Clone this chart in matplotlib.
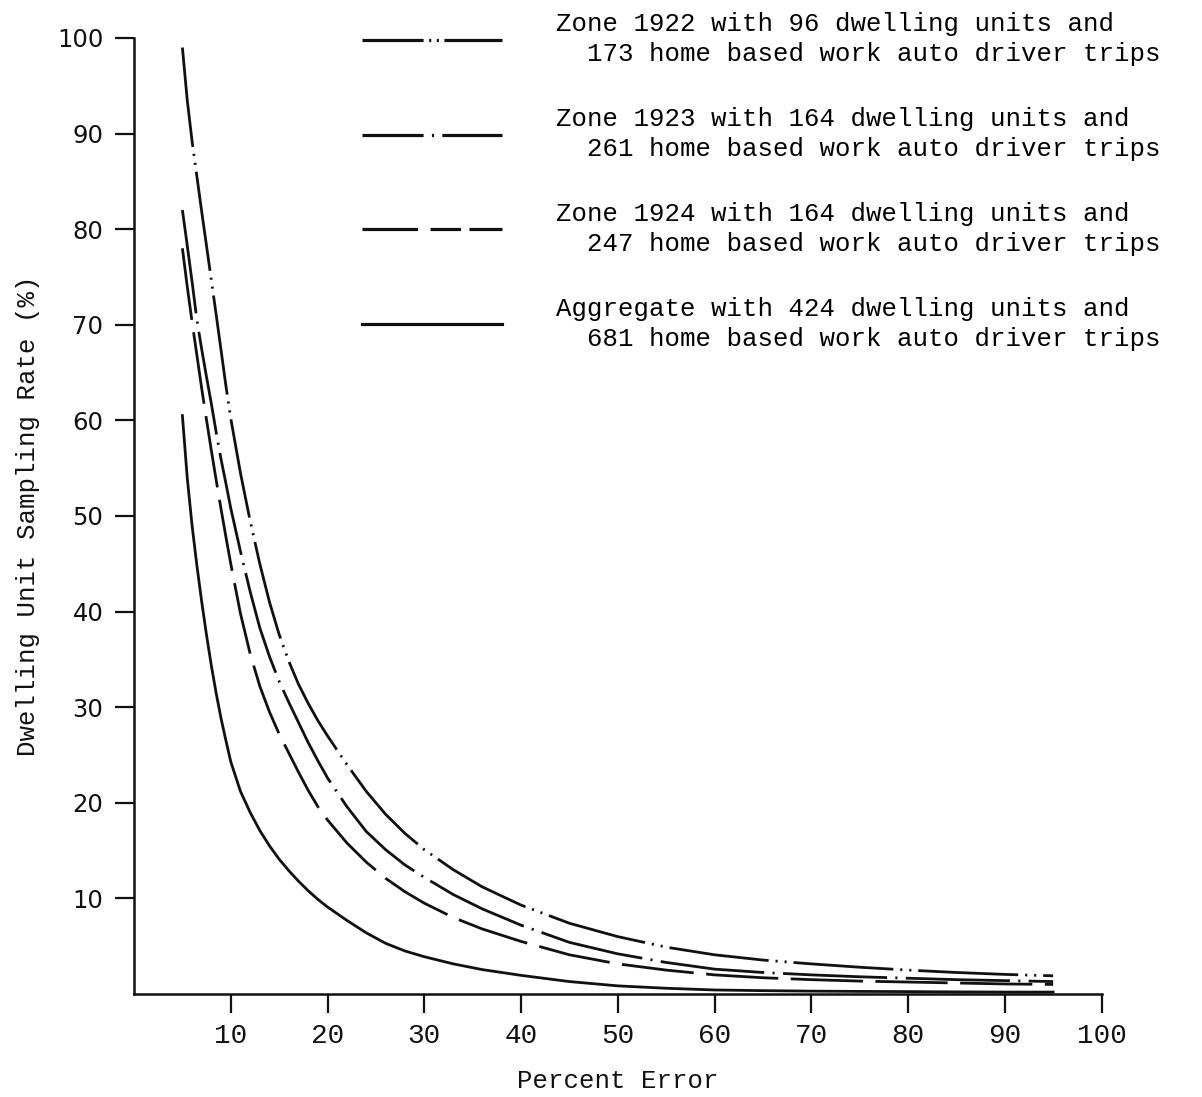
import matplotlib
matplotlib.use("Agg")
import matplotlib.pyplot as plt
from matplotlib.lines import Line2D

plt.rcParams['lines.scale_dashes'] = False

# percent error (x) and dwelling unit sampling rate (%)
pct_error = [5, 5.5, 6, 6.5, 7, 7.5, 8, 8.5, 9, 9.5, 10, 11, 12, 13, 14, 15, 16, 17, 18, 19,
             20, 22, 24, 26, 28, 30, 33, 36, 40, 45, 50, 55, 60, 65, 70, 75, 80, 85, 90, 95]
zone_1922 = [99, 93.5, 89.2, 85.5, 81.8, 78.2, 74.6, 71, 67.3, 63.6, 60.2, 54.5, 49.5, 45.0, 41.0,
             37.6, 34.8, 32.4, 30.4, 28.6, 27.0, 24.0, 21.2, 18.8, 16.8, 15.1, 13.0, 11.2, 9.3,
             7.4, 6.0, 4.9, 4.1, 3.55, 3.15, 2.8, 2.5, 2.25, 2.05, 1.9]
zone_1923 = [82, 78.3, 74.5, 70.5, 67.4, 64.5, 61.7, 58.7, 55.9, 53.4, 50.8, 46.3, 42.1, 38.3, 35.3,
             32.7, 30.5, 28.4, 26.3, 24.4, 22.6, 19.6, 17.0, 15.1, 13.5, 12.2, 10.4, 8.9, 7.2,
             5.4, 4.2, 3.3, 2.6, 2.25, 2.0, 1.8, 1.65, 1.5, 1.4, 1.3]
zone_1924 = [78, 74, 70.3, 66.8, 63.3, 60, 56.8, 53.7, 50.7, 47.8, 45, 39.8, 35.6, 32.2, 29.5,
             27.2, 25.2, 23.2, 21.3, 19.6, 18.2, 15.8, 13.8, 12.1, 10.7, 9.5, 8.0, 6.8, 5.5,
             4.1, 3.15, 2.5, 2.0, 1.7, 1.5, 1.35, 1.25, 1.15, 1.05, 1.0]
aggregate = [60.5, 54, 49, 44.8, 41, 37.5, 34.3, 31.4, 28.8, 26.5, 24.3, 21.2, 19.0, 17.1, 15.5,
             14.1, 12.9, 11.8, 10.8, 9.9, 9.1, 7.7, 6.4, 5.3, 4.5, 3.9, 3.15, 2.55, 1.95,
             1.3, 0.85, 0.6, 0.42, 0.35, 0.3, 0.27, 0.25, 0.22, 0.2, 0.2]

labels = [
    "Zone 1922 with 96 dwelling units and\n  173 home based work auto driver trips",
    "Zone 1923 with 164 dwelling units and\n  261 home based work auto driver trips",
    "Zone 1924 with 164 dwelling units and\n  247 home based work auto driver trips",
    "Aggregate with 424 dwelling units and\n  681 home based work auto driver trips",
]

x_ticks = list(range(10, 101, 10))
y_ticks = list(range(10, 101, 10))

mono = 'Liberation Mono'
ink = '#111111'

fig = plt.figure(figsize=(12.02, 10.97), dpi=100)
ax = fig.add_axes([0.1115, 0.0939, 0.8049, 0.8715])

lw = 2.0
# curves
ax.plot(pct_error, zone_1922, color=ink, lw=lw, dashes=(72, 5, 1.5, 5, 1.5, 5))
ax.plot(pct_error, zone_1923, color=ink, lw=lw, dashes=(75, 6, 1.5, 6))
ax.plot(pct_error, zone_1924, color=ink, lw=lw, dashes=(52, 9))
ax.plot(pct_error, aggregate, color=ink, lw=lw)

ax.set_xlim(0, 100)
ax.set_ylim(0, 100)

for side in ['top', 'right']:
    ax.spines[side].set_visible(False)
for side in ['left', 'bottom']:
    ax.spines[side].set_linewidth(1.8)
    ax.spines[side].set_color(ink)

ax.set_xticks(x_ticks)
ax.set_yticks(y_ticks)
ax.tick_params(axis='both', direction='out', length=14, width=1.6, color=ink)
ax.tick_params(axis='x', pad=7)
ax.tick_params(axis='y', pad=8)
ax.set_xticklabels([str(v) for v in x_ticks], fontfamily=mono, fontsize=20, color=ink)
ax.set_yticklabels([str(v) for v in y_ticks], fontfamily='DejaVu Sans', fontsize=17.5, color=ink)

ax.set_xlabel('Percent Error', fontfamily=mono, fontsize=18.5, color=ink, labelpad=14)
ax.set_ylabel('Dwelling Unit Sampling Rate (%)', fontfamily=mono, fontsize=18.5, color=ink, labelpad=12)

# legend with hand-tuned sample dashes
handles = [
    Line2D([], [], color=ink, lw=2.3, dashes=(44, 4, 1.5, 4, 1.5, 4)),
    Line2D([], [], color=ink, lw=2.3, dashes=(44, 6, 1.5, 6)),
    Line2D([], [], color=ink, lw=2.3, dashes=(40, 9, 22, 6)),
    Line2D([], [], color=ink, lw=2.3),
]
leg = fig.legend(handles, labels, loc='upper left', bbox_to_anchor=(362 / 1202, 1 - 12 / 1097),
                 frameon=False, prop={'family': mono, 'size': 18.5}, handlelength=5.45,
                 handletextpad=2.1, labelspacing=1.58, borderpad=0, borderaxespad=0)
for t in leg.get_texts():
    t.set_linespacing(1.33)

fig.savefig('out.png', dpi=100, facecolor='white')
